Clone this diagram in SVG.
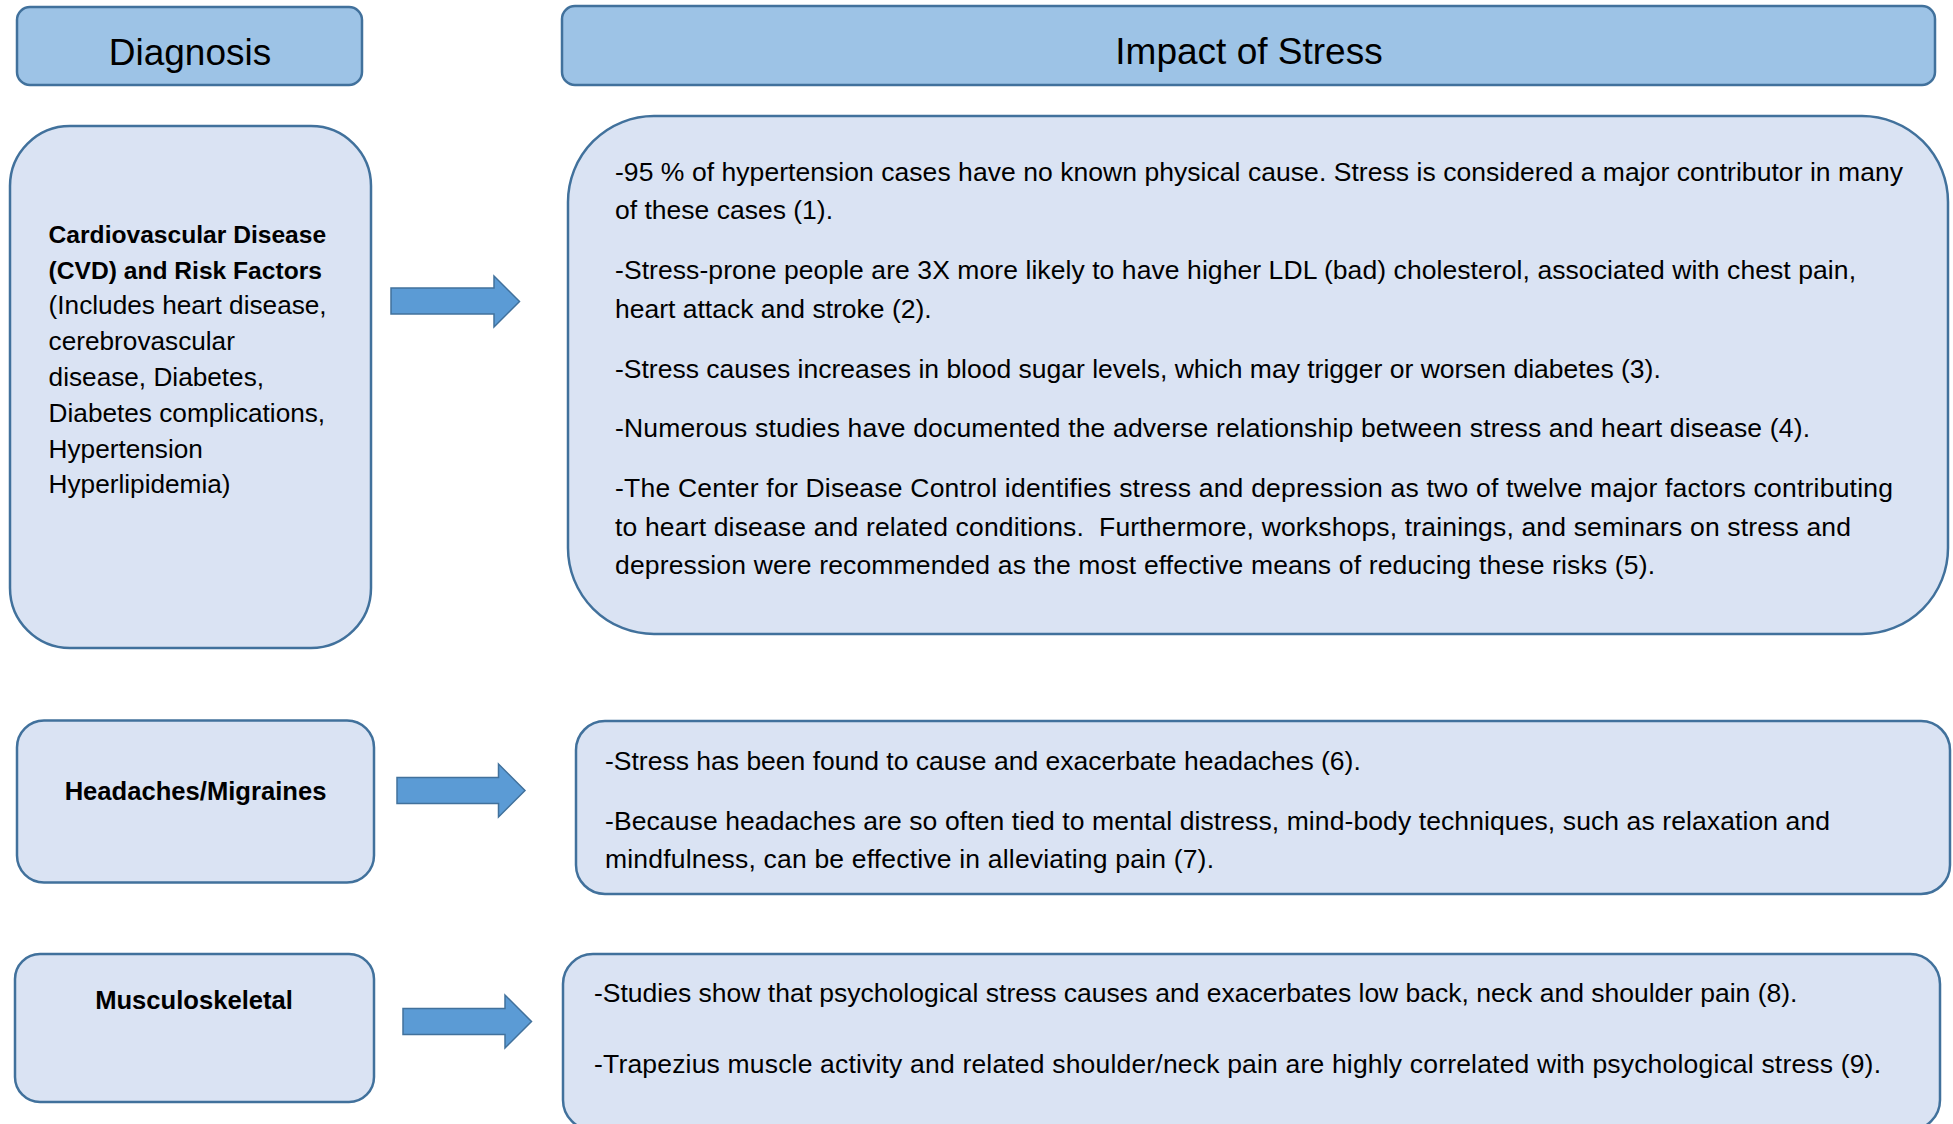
<svg xmlns="http://www.w3.org/2000/svg" width="1953" height="1124" viewBox="0 0 1953 1124">
<style>
.hdr{fill:#9DC3E6;stroke:#41719C;stroke-width:2.5}
.box{fill:#DAE3F3;stroke:#41719C;stroke-width:2.5}
.arrow{fill:#5B9BD5;stroke:#41719C;stroke-width:1.5}
text{font-family:"Liberation Sans",Arial,sans-serif;fill:#000}
.ht{font-size:37px}
.body{font-size:26.5px;white-space:pre}
.lb{font-weight:bold;font-size:24.6px}
.lb2{font-weight:bold;font-size:25.6px}
.lr{font-size:26.2px}
</style>
<rect width="1953" height="1124" fill="#FFFFFF"/>
<g id="hdr-diagnosis">
<rect class="hdr" x="17" y="7" width="345" height="78" rx="13"/>
<text class="ht" x="190" y="65" text-anchor="middle">Diagnosis</text>
</g>
<g id="hdr-impact">
<rect class="hdr" x="562" y="6" width="1373" height="79" rx="13"/>
<text class="ht" x="1249" y="64" text-anchor="middle">Impact of Stress</text>
</g>
<g id="diag-cvd">
<rect class="box" x="10" y="126" width="361" height="522" rx="60"/>
<text class="lb" x="48.6" y="243">Cardiovascular Disease</text>
<text class="lb" x="48.6" y="278.6">(CVD) and Risk Factors</text>
<text class="lr" x="48.6" y="314">(Includes heart disease,</text>
<text class="lr" x="48.6" y="350">cerebrovascular</text>
<text class="lr" x="48.6" y="386">disease, Diabetes,</text>
<text class="lr" x="48.6" y="422">Diabetes complications,</text>
<text class="lr" x="48.6" y="457.5">Hypertension</text>
<text class="lr" x="48.6" y="493">Hyperlipidemia)</text>
</g>
<g id="diag-headaches">
<rect class="box" x="17" y="720.5" width="357" height="162" rx="27"/>
<text class="lb2" x="195.5" y="800" text-anchor="middle">Headaches/Migraines</text>
</g>
<g id="diag-musculo">
<rect class="box" x="15" y="954" width="359" height="148" rx="25"/>
<text class="lb2" x="194" y="1009" text-anchor="middle">Musculoskeletal</text>
</g>
<g id="impact-cvd">
<rect class="box" x="568" y="116" width="1380" height="518" rx="86"/>
<text class="body" x="615" y="180.5" textLength="1288" lengthAdjust="spacing">-95 % of hypertension cases have no known physical cause. Stress is considered a major contributor in many</text>
<text class="body" x="615" y="219">of these cases (1).</text>
<text class="body" x="615" y="279" textLength="1241" lengthAdjust="spacing">-Stress-prone people are 3X more likely to have higher LDL (bad) cholesterol, associated with chest pain,</text>
<text class="body" x="615" y="317.5">heart attack and stroke (2).</text>
<text class="body" x="615" y="377.5">-Stress causes increases in blood sugar levels, which may trigger or worsen diabetes (3).</text>
<text class="body" x="615" y="437" textLength="1195" lengthAdjust="spacing">-Numerous studies have documented the adverse relationship between stress and heart disease (4).</text>
<text class="body" x="615" y="497" textLength="1278" lengthAdjust="spacing">-The Center for Disease Control identifies stress and depression as two of twelve major factors contributing</text>
<text class="body" x="615" y="535.5" textLength="1236" lengthAdjust="spacing">to heart disease and related conditions.  Furthermore, workshops, trainings, and seminars on stress and</text>
<text class="body" x="615" y="574" textLength="1040" lengthAdjust="spacing">depression were recommended as the most effective means of reducing these risks (5).</text>
</g>
<g id="impact-headaches">
<rect class="box" x="576" y="721" width="1374" height="173" rx="29"/>
<text class="body" x="605" y="770">-Stress has been found to cause and exacerbate headaches (6).</text>
<text class="body" x="605" y="830" textLength="1225" lengthAdjust="spacing">-Because headaches are so often tied to mental distress, mind-body techniques, such as relaxation and</text>
<text class="body" x="605" y="868" textLength="609" lengthAdjust="spacing">mindfulness, can be effective in alleviating pain (7).</text>
</g>
<g id="impact-musculo">
<rect class="box" x="563" y="954" width="1377" height="176" rx="30"/>
<text class="body" x="594" y="1001.5">-Studies show that psychological stress causes and exacerbates low back, neck and shoulder pain (8).</text>
<text class="body" x="594" y="1072.5" textLength="1287" lengthAdjust="spacing">-Trapezius muscle activity and related shoulder/neck pain are highly correlated with psychological stress (9).</text>
</g>
<g id="connectors">
<polygon class="arrow" points="391,288 494,288 494,276 519.5,301.5 494,327 494,314 391,314"/>
<polygon class="arrow" points="397,777.5 498.5,777.5 498.5,764 525,790.5 498.5,817 498.5,803.5 397,803.5"/>
<polygon class="arrow" points="403,1008.5 505,1008.5 505,995 531.5,1021.5 505,1048 505,1034.5 403,1034.5"/>
</g>
</svg>
